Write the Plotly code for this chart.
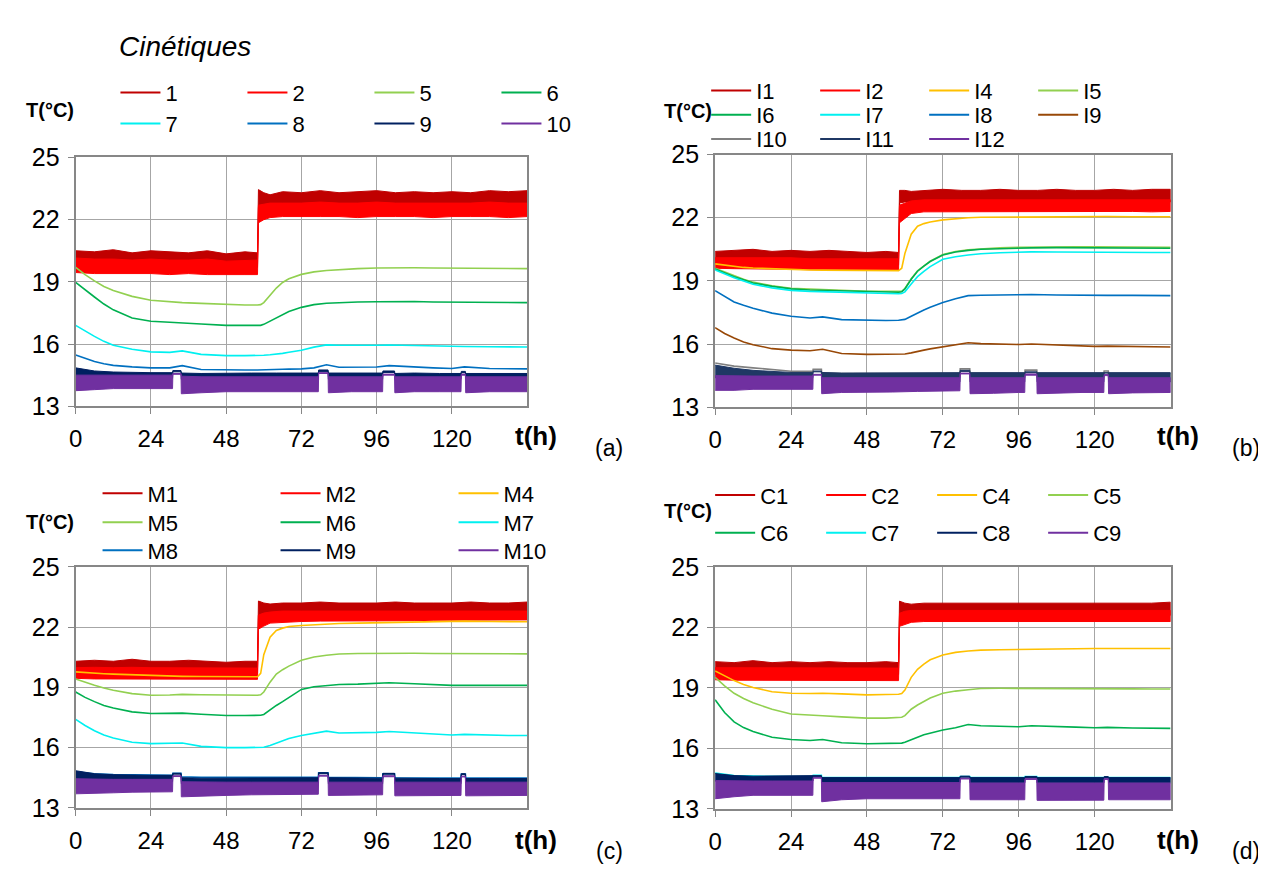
import plotly.graph_objects as go

W, H = 1266, 870
FONT = "Liberation Sans, Arial, sans-serif"

# ---------------- time grids (h) ----------------
t_smooth = [0, 3, 6, 9, 12, 18, 24, 30, 34, 40, 48, 54, 58, 59, 60, 62, 64, 66, 68, 72,
            76, 80, 84, 90, 96, 100, 108, 114, 120, 124, 132, 138, 144]
t_red = [0, 6, 12, 18, 24, 30, 36, 42, 48, 54, 58,
         58.3, 60, 62, 66, 72, 78, 84, 90, 96, 102, 108, 114, 120, 126, 132, 138, 144]
t_low = [0, 6, 12, 18, 24, 30.9, 31, 33.6, 33.7, 40, 48, 56, 64, 72, 77.4, 77.5, 80.5, 80.6,
         88, 96, 97.9, 98, 101.7, 101.8, 108, 116, 122.9, 123, 124.3, 124.4, 132, 138, 144]

# ---------------- panel (a) ----------------
a1_hi = [20.5, 20.45, 20.55, 20.4, 20.5, 20.45, 20.4, 20.5, 20.35, 20.45, 20.4,
         23.45, 23.3, 23.2, 23.35, 23.3, 23.4, 23.3, 23.35, 23.4, 23.3, 23.35, 23.3, 23.35, 23.3, 23.4, 23.35, 23.4]
a1_lo = [19.75, 19.75, 19.7, 19.75, 19.75, 19.7, 19.75, 19.7, 19.7, 19.7, 19.7,
         22.6, 22.6, 22.55, 22.6, 22.6, 22.6, 22.6, 22.55, 22.6, 22.6, 22.6, 22.55, 22.6, 22.6, 22.6, 22.55, 22.6]
a2_hi = [20.15, 20.1, 20.1, 20.05, 20.1, 20.05, 20.05, 20.1, 20.0, 20.05, 20.05,
         22.7, 22.75, 22.8, 22.8, 22.8, 22.85, 22.8, 22.8, 22.85, 22.8, 22.8, 22.8, 22.8, 22.8, 22.85, 22.8, 22.8]
a2_lo = [19.45, 19.4, 19.4, 19.4, 19.4, 19.35, 19.4, 19.35, 19.35, 19.35, 19.35,
         21.85, 22.0, 22.1, 22.15, 22.15, 22.15, 22.15, 22.1, 22.15, 22.15, 22.15, 22.1, 22.15, 22.15, 22.15, 22.1, 22.15]
a5 = [19.7, 19.35, 19.05, 18.78, 18.58, 18.3, 18.11, 18.03, 18.0, 17.96, 17.9, 17.88, 17.88, 17.9, 18.0,
      18.35, 18.7, 18.97, 19.15, 19.36, 19.48, 19.55, 19.6, 19.64, 19.67, 19.68, 19.68, 19.67, 19.66, 19.66,
      19.65, 19.65, 19.64]
a6 = [18.97, 18.6, 18.27, 17.93, 17.65, 17.26, 17.1, 17.05, 17.03, 16.97, 16.9, 16.9, 16.9, 16.9, 16.95,
      17.1, 17.26, 17.42, 17.57, 17.77, 17.9, 17.97, 18.0, 18.03, 18.04, 18.05, 18.05, 18.03, 18.02, 18.02,
      18.01, 18.0, 18.0]
a7 = [16.9, 16.62, 16.37, 16.13, 15.94, 15.75, 15.62, 15.6, 15.67, 15.5, 15.44, 15.44, 15.44, 15.45, 15.46,
      15.48, 15.5, 15.55, 15.6, 15.7, 15.85, 15.96, 15.94, 15.93, 15.94, 15.95, 15.92, 15.9, 15.87, 15.88,
      15.87, 15.86, 15.86]
a8 = [15.47, 15.3, 15.16, 15.05, 14.97, 14.9, 14.85, 14.85, 14.96, 14.77, 14.74, 14.75, 14.75, 14.75, 14.76,
      14.77, 14.78, 14.78, 14.79, 14.8, 14.85, 15.0, 14.88, 14.88, 14.89, 14.96, 14.88, 14.85, 14.82, 14.9,
      14.82, 14.8, 14.8]
a9_hi = [14.85, 14.7, 14.65, 14.62, 14.62, 14.62, 14.72, 14.72, 14.6, 14.58, 14.6, 14.6, 14.6, 14.6, 14.6,
         14.75, 14.75, 14.6, 14.6, 14.6, 14.6, 14.7, 14.7, 14.58, 14.6, 14.58, 14.58, 14.68, 14.68, 14.58,
         14.58, 14.58, 14.58]
a9_lo = [14.4, 14.35, 14.35, 14.35, 14.35, 14.35, 14.66, 14.66, 14.3, 14.3, 14.3, 14.3, 14.3, 14.3, 14.3,
         14.68, 14.68, 14.3, 14.3, 14.3, 14.3, 14.63, 14.63, 14.3, 14.3, 14.3, 14.3, 14.62, 14.62, 14.3,
         14.3, 14.3, 14.3]
a10_hi = [14.5, 14.5, 14.5, 14.5, 14.5, 14.5, 14.58, 14.58, 14.45, 14.42, 14.42, 14.42, 14.42, 14.42, 14.42,
          14.62, 14.62, 14.42, 14.42, 14.42, 14.42, 14.55, 14.55, 14.42, 14.42, 14.42, 14.42, 14.55, 14.55, 14.42,
          14.42, 14.42, 14.42]
a10_lo = [13.75, 13.8, 13.85, 13.85, 13.85, 13.85, 14.54, 14.54, 13.6, 13.65, 13.7, 13.7, 13.7, 13.7, 13.7,
          14.58, 14.58, 13.65, 13.7, 13.7, 13.7, 14.5, 14.5, 13.65, 13.7, 13.7, 13.7, 14.5, 14.5, 13.65,
          13.7, 13.7, 13.7]

# ---------------- panel (b) ----------------
i1_hi = [20.4, 20.45, 20.5, 20.4, 20.45, 20.4, 20.45, 20.4, 20.35, 20.4, 20.35,
         23.3, 23.3, 23.25, 23.3, 23.35, 23.3, 23.3, 23.35, 23.3, 23.3, 23.35, 23.3, 23.3, 23.35, 23.3, 23.35, 23.35]
i1_lo = [19.8, 19.8, 19.8, 19.8, 19.8, 19.78, 19.78, 19.78, 19.75, 19.75, 19.75,
         22.7, 22.75, 22.75, 22.72, 22.75, 22.75, 22.72, 22.75, 22.75, 22.72, 22.75, 22.75, 22.72, 22.75, 22.75, 22.72, 22.75]
i2_hi = [20.1, 20.1, 20.1, 20.1, 20.1, 20.05, 20.05, 20.05, 20.05, 20.05, 20.05,
         22.6, 22.7, 22.8, 22.85, 22.85, 22.88, 22.85, 22.85, 22.88, 22.85, 22.85, 22.88, 22.85, 22.85, 22.88, 22.85, 22.85]
i2_lo = [19.6, 19.58, 19.55, 19.55, 19.55, 19.53, 19.53, 19.53, 19.5, 19.5, 19.5,
         21.76, 21.95, 22.2, 22.28, 22.3, 22.3, 22.3, 22.28, 22.3, 22.3, 22.3, 22.28, 22.3, 22.3, 22.3, 22.28, 22.3]
i4 = [19.81, 19.75, 19.68, 19.64, 19.61, 19.57, 19.54, 19.52, 19.51, 19.5, 19.49, 19.49, 19.49, 19.6, 20.3,
      21.22, 21.6, 21.72, 21.8, 21.9, 21.96, 22.0, 22.02, 22.03, 22.04, 22.04, 22.05, 22.05, 22.06, 22.06,
      22.05, 22.05, 22.05]
i5 = [19.6, 19.42, 19.25, 19.08, 18.94, 18.77, 18.65, 18.6, 18.58, 18.55, 18.51, 18.49, 18.48, 18.5, 18.64,
      19.1, 19.48, 19.72, 19.94, 20.25, 20.4, 20.48, 20.53, 20.57, 20.6, 20.61, 20.62, 20.62, 20.62, 20.62,
      20.61, 20.61, 20.6]
i6 = [19.57, 19.38, 19.2, 19.05, 18.9, 18.74, 18.62, 18.57, 18.55, 18.52, 18.49, 18.47, 18.46, 18.48, 18.62,
      19.08, 19.46, 19.7, 19.92, 20.23, 20.37, 20.45, 20.5, 20.53, 20.56, 20.57, 20.58, 20.58, 20.58, 20.57,
      20.56, 20.56, 20.55]
i7 = [19.52, 19.33, 19.15, 18.99, 18.84, 18.67, 18.55, 18.5, 18.48, 18.46, 18.42, 18.4, 18.39, 18.4, 18.48,
      18.85, 19.2, 19.45, 19.68, 20.03, 20.15, 20.23, 20.29, 20.34, 20.38, 20.38, 20.37, 20.36, 20.36, 20.36,
      20.35, 20.35, 20.35]
i8 = [18.54, 18.25, 18.0, 17.84, 17.7, 17.47, 17.32, 17.24, 17.29, 17.16, 17.12, 17.12, 17.13, 17.14, 17.17,
      17.32, 17.48, 17.62, 17.75, 17.97, 18.15, 18.3, 18.32, 18.34, 18.36, 18.35, 18.33, 18.31, 18.3, 18.31,
      18.31, 18.3, 18.3]
i9 = [16.78, 16.5, 16.29, 16.1, 15.97, 15.78, 15.71, 15.68, 15.75, 15.55, 15.51, 15.52, 15.52, 15.52, 15.53,
      15.58, 15.63, 15.71, 15.77, 15.86, 15.95, 16.06, 16.02, 15.99, 15.98, 16.0, 15.95, 15.92, 15.89, 15.9,
      15.88, 15.86, 15.86]
i10 = [15.1, 14.95, 14.87, 14.78, 14.71, 14.7, 14.8, 14.8, 14.62, 14.6, 14.6, 14.58, 14.58, 14.58, 14.6,
       14.82, 14.82, 14.62, 14.6, 14.6, 14.6, 14.76, 14.76, 14.6, 14.6, 14.6, 14.6, 14.72, 14.72, 14.6,
       14.6, 14.6, 14.6]
i11_hi = [15.0, 14.85, 14.75, 14.7, 14.65, 14.65, 14.72, 14.72, 14.65, 14.62, 14.62, 14.62, 14.64, 14.64, 14.64,
          14.75, 14.75, 14.64, 14.64, 14.64, 14.64, 14.68, 14.68, 14.64, 14.64, 14.64, 14.64, 14.66, 14.66, 14.64,
          14.64, 14.64, 14.64]
i11_lo = [14.4, 14.4, 14.4, 14.4, 14.4, 14.4, 14.68, 14.68, 14.2, 14.2, 14.2, 14.2, 14.2, 14.2, 14.2,
          14.7, 14.7, 14.2, 14.2, 14.2, 14.2, 14.64, 14.64, 14.2, 14.2, 14.2, 14.2, 14.62, 14.62, 14.2,
          14.2, 14.2, 14.2]
i12_hi = [14.5, 14.48, 14.48, 14.48, 14.48, 14.48, 14.56, 14.56, 14.4, 14.4, 14.4, 14.4, 14.4, 14.4, 14.4,
          14.62, 14.62, 14.4, 14.4, 14.4, 14.4, 14.58, 14.58, 14.4, 14.4, 14.4, 14.4, 14.55, 14.55, 14.4,
          14.4, 14.4, 14.4]
i12_lo = [13.8, 13.8, 13.85, 13.85, 13.85, 13.85, 14.52, 14.52, 13.64, 13.7, 13.7, 13.72, 13.75, 13.78, 13.78,
          14.58, 14.58, 13.64, 13.66, 13.7, 13.7, 14.52, 14.52, 13.64, 13.66, 13.7, 13.7, 14.5, 14.5, 13.64,
          13.68, 13.7, 13.7]

# ---------------- panel (c) ----------------
m1_hi = [20.3, 20.35, 20.3, 20.4, 20.3, 20.3, 20.35, 20.3, 20.25, 20.3, 20.3,
         23.3, 23.2, 23.15, 23.2, 23.2, 23.25, 23.2, 23.2, 23.2, 23.25, 23.2, 23.2, 23.2, 23.25, 23.2, 23.2, 23.25]
m1_lo = [19.74, 19.74, 19.72, 19.74, 19.72, 19.72, 19.7, 19.72, 19.7, 19.7, 19.7,
         22.6, 22.6, 22.58, 22.6, 22.6, 22.62, 22.6, 22.6, 22.6, 22.62, 22.6, 22.6, 22.6, 22.62, 22.6, 22.6, 22.62]
m2_hi = [19.98, 20.0, 19.98, 20.0, 19.98, 19.98, 19.98, 19.96, 19.96, 19.96, 19.96,
         22.6, 22.7, 22.75, 22.8, 22.8, 22.8, 22.82, 22.8, 22.8, 22.8, 22.82, 22.8, 22.8, 22.8, 22.82, 22.8, 22.8]
m2_lo = [19.45, 19.42, 19.42, 19.42, 19.42, 19.42, 19.42, 19.4, 19.4, 19.4, 19.4,
         21.9, 22.05, 22.2, 22.25, 22.28, 22.3, 22.3, 22.3, 22.32, 22.32, 22.32, 22.34, 22.34, 22.36, 22.36, 22.36, 22.36]
m4 = [19.77, 19.73, 19.7, 19.68, 19.66, 19.62, 19.58, 19.56, 19.55, 19.54, 19.53, 19.53, 19.53, 19.7, 20.63,
      21.5, 21.83, 21.95, 22.03, 22.08, 22.12, 22.15, 22.18, 22.2, 22.22, 22.24, 22.25, 22.27, 22.3, 22.3,
      22.28, 22.27, 22.27]
m5 = [19.42, 19.25, 19.1, 18.97, 18.86, 18.69, 18.61, 18.62, 18.65, 18.63, 18.61, 18.61, 18.61, 18.63, 18.77,
      19.26, 19.66, 19.88, 20.06, 20.35, 20.51, 20.6, 20.66, 20.69, 20.7, 20.71, 20.7, 20.69, 20.68, 20.68,
      20.68, 20.68, 20.67]
m6 = [18.77, 18.5, 18.29, 18.1, 17.97, 17.78, 17.7, 17.7, 17.72, 17.66, 17.6, 17.6, 17.6, 17.61, 17.65,
      17.89, 18.1, 18.29, 18.5, 18.9, 19.03, 19.1, 19.14, 19.16, 19.18, 19.23, 19.18, 19.13, 19.1, 19.1,
      19.1, 19.1, 19.1]
m7 = [17.41, 17.1, 16.84, 16.63, 16.48, 16.27, 16.2, 16.2, 16.23, 16.06, 16.0, 16.0, 16.0, 16.0, 16.02,
      16.11, 16.22, 16.35, 16.45, 16.6, 16.7, 16.82, 16.73, 16.74, 16.76, 16.8, 16.74, 16.68, 16.63, 16.66,
      16.62, 16.6, 16.6]
m8 = [14.8, 14.7, 14.66, 14.64, 14.62, 14.62, 14.72, 14.72, 14.55, 14.52, 14.52, 14.52, 14.52, 14.52, 14.52,
      14.75, 14.75, 14.52, 14.5, 14.5, 14.5, 14.7, 14.7, 14.5, 14.48, 14.48, 14.48, 14.68, 14.68, 14.48,
      14.48, 14.48, 14.48]
m9_hi = [14.85, 14.7, 14.65, 14.62, 14.62, 14.62, 14.72, 14.72, 14.5, 14.48, 14.48, 14.48, 14.5, 14.5, 14.5,
         14.75, 14.75, 14.5, 14.48, 14.48, 14.48, 14.72, 14.72, 14.48, 14.46, 14.46, 14.46, 14.7, 14.7, 14.46,
         14.46, 14.46, 14.46]
m9_lo = [14.3, 14.3, 14.3, 14.3, 14.3, 14.3, 14.68, 14.68, 14.2, 14.2, 14.2, 14.2, 14.2, 14.2, 14.2,
         14.7, 14.7, 14.2, 14.2, 14.2, 14.2, 14.68, 14.68, 14.2, 14.2, 14.2, 14.2, 14.66, 14.66, 14.2,
         14.2, 14.2, 14.2]
m10_hi = [14.45, 14.42, 14.42, 14.42, 14.42, 14.42, 14.6, 14.6, 14.3, 14.28, 14.28, 14.28, 14.28, 14.28, 14.28,
          14.62, 14.62, 14.28, 14.28, 14.28, 14.28, 14.6, 14.6, 14.28, 14.28, 14.28, 14.28, 14.58, 14.58, 14.28,
          14.28, 14.28, 14.28]
m10_lo = [13.7, 13.72, 13.75, 13.78, 13.8, 13.8, 14.56, 14.56, 13.55, 13.6, 13.62, 13.65, 13.68, 13.68, 13.68,
          14.58, 14.58, 13.62, 13.65, 13.65, 13.65, 14.55, 14.55, 13.6, 13.62, 13.62, 13.62, 14.54, 14.54, 13.6,
          13.62, 13.62, 13.62]

# ---------------- panel (d) ----------------
c1_hi = [20.3, 20.25, 20.35, 20.25, 20.3, 20.25, 20.3, 20.25, 20.25, 20.3, 20.25,
         23.3, 23.2, 23.15, 23.2, 23.2, 23.19, 23.22, 23.2, 23.2, 23.19, 23.22, 23.2, 23.2, 23.22, 23.2, 23.2, 23.25]
c1_lo = [19.68, 19.68, 19.66, 19.68, 19.68, 19.66, 19.68, 19.66, 19.66, 19.66, 19.66,
         22.6, 22.6, 22.58, 22.6, 22.62, 22.6, 22.6, 22.58, 22.6, 22.62, 22.6, 22.6, 22.58, 22.6, 22.62, 22.6, 22.6]
c2_hi = [20.0, 20.0, 19.98, 20.0, 20.0, 19.98, 20.0, 19.98, 19.98, 19.98, 19.98,
         22.7, 22.8, 22.84, 22.84, 22.84, 22.86, 22.84, 22.84, 22.86, 22.84, 22.84, 22.86, 22.84, 22.84, 22.86, 22.84, 22.84]
c2_lo = [19.4, 19.38, 19.36, 19.36, 19.36, 19.36, 19.36, 19.36, 19.36, 19.36, 19.36,
         22.05, 22.15, 22.25, 22.29, 22.29, 22.3, 22.29, 22.29, 22.3, 22.29, 22.29, 22.3, 22.29, 22.29, 22.3, 22.29, 22.29]
c4 = [19.84, 19.6, 19.36, 19.17, 19.02, 18.81, 18.73, 18.72, 18.73, 18.7, 18.65, 18.67, 18.68, 18.72, 18.89,
      19.52, 19.92, 20.18, 20.39, 20.63, 20.76, 20.83, 20.87, 20.89, 20.91, 20.92, 20.93, 20.94, 20.95, 20.95,
      20.95, 20.95, 20.95]
c5 = [19.52, 19.1, 18.73, 18.47, 18.26, 17.94, 17.7, 17.63, 17.62, 17.56, 17.5, 17.5, 17.51, 17.54, 17.62,
      17.94, 18.15, 18.34, 18.5, 18.73, 18.84, 18.91, 18.97, 18.98, 18.98, 18.98, 18.97, 18.96, 18.96, 18.95,
      18.95, 18.94, 18.94]
c6 = [18.41, 17.78, 17.31, 17.03, 16.83, 16.55, 16.44, 16.39, 16.44, 16.28, 16.23, 16.24, 16.25, 16.26, 16.3,
      16.44, 16.55, 16.67, 16.76, 16.91, 17.02, 17.18, 17.12, 17.08, 17.07, 17.12, 17.1, 17.05, 17.02, 17.04,
      17.01, 17.0, 16.99]
c7 = [14.78, 14.65, 14.62, 14.6, 14.6, 14.6, 14.66, 14.66, 14.55, 14.55, 14.55, 14.55, 14.55, 14.55, 14.55,
      14.6, 14.6, 14.55, 14.55, 14.55, 14.55, 14.6, 14.6, 14.55, 14.55, 14.55, 14.55, 14.58, 14.58, 14.55,
      14.55, 14.55, 14.55]
c8_hi = [14.75, 14.65, 14.62, 14.62, 14.62, 14.62, 14.65, 14.65, 14.55, 14.55, 14.55, 14.55, 14.55, 14.55, 14.55,
         14.62, 14.62, 14.55, 14.55, 14.55, 14.55, 14.6, 14.6, 14.55, 14.55, 14.55, 14.55, 14.6, 14.6, 14.55,
         14.55, 14.55, 14.55]
c8_lo = [14.38, 14.38, 14.38, 14.38, 14.38, 14.38, 14.6, 14.6, 14.3, 14.3, 14.3, 14.3, 14.3, 14.3, 14.3,
         14.57, 14.57, 14.3, 14.3, 14.3, 14.3, 14.55, 14.55, 14.3, 14.3, 14.3, 14.3, 14.55, 14.55, 14.3,
         14.3, 14.3, 14.3]
c9_hi = [14.4, 14.38, 14.38, 14.38, 14.38, 14.38, 14.56, 14.56, 14.3, 14.3, 14.3, 14.3, 14.3, 14.3, 14.3,
         14.52, 14.52, 14.28, 14.28, 14.28, 14.28, 14.5, 14.5, 14.28, 14.28, 14.28, 14.28, 14.5, 14.5, 14.28,
         14.28, 14.28, 14.28]
c9_lo = [13.5, 13.6, 13.67, 13.67, 13.67, 13.67, 14.52, 14.52, 13.35, 13.45, 13.5, 13.5, 13.5, 13.5, 13.5,
         14.48, 14.48, 13.45, 13.45, 13.45, 13.45, 14.46, 14.46, 13.42, 13.43, 13.43, 13.43, 14.46, 14.46, 13.45,
         13.45, 13.45, 13.45]

x_ticks = [0, 24, 48, 72, 96, 120]
y_ticks = [13, 16, 19, 22, 25]

# colours
DRED, RED, YEL, LGRN, GRN = "#C00000", "#FF0000", "#FFC000", "#92D050", "#00B050"
CYAN, BLUE, NAVY, PURP = "#00F0F0", "#0070C0", "#002060", "#7030A0"
BROWN, GRAY, SLATE = "#984807", "#808080", "#1F3864"

panels = [
    dict(key="a", rows=[["1", "2", "5", "6"], ["7", "8", "9", "10"]], series=[
        ("1", DRED, "band", (a1_hi, a1_lo), t_red),
        ("2", RED, "band", (a2_hi, a2_lo), t_red),
        ("5", LGRN, "line", a5, t_smooth),
        ("6", GRN, "line", a6, t_smooth),
        ("7", CYAN, "line", a7, t_smooth),
        ("8", BLUE, "line", a8, t_smooth),
        ("9", NAVY, "band", (a9_hi, a9_lo), t_low),
        ("10", PURP, "band", (a10_hi, a10_lo), t_low)]),
    dict(key="b", rows=[["I1", "I2", "I4", "I5"], ["I6", "I7", "I8", "I9"], ["I10", "I11", "I12"]], series=[
        ("I1", DRED, "band", (i1_hi, i1_lo), t_red),
        ("I2", RED, "band", (i2_hi, i2_lo), t_red),
        ("I4", YEL, "line", i4, t_smooth),
        ("I5", LGRN, "line", i5, t_smooth),
        ("I6", GRN, "line", i6, t_smooth),
        ("I7", CYAN, "line", i7, t_smooth),
        ("I8", BLUE, "line", i8, t_smooth),
        ("I9", BROWN, "line", i9, t_smooth),
        ("I10", GRAY, "line", i10, t_low),
        ("I11", SLATE, "band", (i11_hi, i11_lo), t_low),
        ("I12", PURP, "band", (i12_hi, i12_lo), t_low)]),
    dict(key="c", rows=[["M1", "M2", "M4"], ["M5", "M6", "M7"], ["M8", "M9", "M10"]], series=[
        ("M1", DRED, "band", (m1_hi, m1_lo), t_red),
        ("M2", RED, "band", (m2_hi, m2_lo), t_red),
        ("M4", YEL, "line", m4, t_smooth),
        ("M5", LGRN, "line", m5, t_smooth),
        ("M6", GRN, "line", m6, t_smooth),
        ("M7", CYAN, "line", m7, t_smooth),
        ("M8", BLUE, "line", m8, t_low),
        ("M9", NAVY, "band", (m9_hi, m9_lo), t_low),
        ("M10", PURP, "band", (m10_hi, m10_lo), t_low)]),
    dict(key="d", rows=[["C1", "C2", "C4", "C5"], ["C6", "C7", "C8", "C9"]], series=[
        ("C1", DRED, "band", (c1_hi, c1_lo), t_red),
        ("C2", RED, "band", (c2_hi, c2_lo), t_red),
        ("C4", YEL, "line", c4, t_smooth),
        ("C5", LGRN, "line", c5, t_smooth),
        ("C6", GRN, "line", c6, t_smooth),
        ("C7", CYAN, "line", c7, t_low),
        ("C8", NAVY, "band", (c8_hi, c8_lo), t_low),
        ("C9", PURP, "band", (c9_hi, c9_lo), t_low)]),
]

# plot boxes in pixels (left, right, top, bottom)
boxes = {"a": (61, 515, 140, 397), "b": (704, 1162, 137, 398),
         "c": (61, 515, 563, 812), "d": (704, 1162, 563, 813)}
# legend rows: (x where first entry text starts, [row centres], column pitch)
legend_geo = {"a": (151, [73, 105], 127), "b": (745, [71, 96, 121], 109),
              "c": (133, [487, 517, 546], 178), "d": (749, [489, 528], 111)}
ITEMW = 40
TEXTGAP = ITEMW + 10

fig = go.Figure()
layout = dict(width=W, height=H, margin=dict(l=0, r=0, t=0, b=0),
              paper_bgcolor="white", plot_bgcolor="white", hovermode=False,
              font=dict(family=FONT, color="#000000"))

legend_counter = 0
for pi, p in enumerate(panels):
    k = p["key"]
    xa = "x" if pi == 0 else f"x{pi + 1}"
    ya = "y" if pi == 0 else f"y{pi + 1}"
    l, r, t, b = boxes[k]
    axkey = "" if pi == 0 else str(pi + 1)
    layout["xaxis" + axkey] = dict(
        domain=[l / W, r / W], anchor=ya, range=[0, 144], tickvals=x_ticks,
        showgrid=True, gridcolor="#A6A6A6", gridwidth=1, zeroline=False,
        showline=True, linecolor="#878787", linewidth=2, mirror=True,
        ticks="outside", ticklen=6, tickcolor="#878787", tickwidth=1,
        tickfont=dict(size=24, family=FONT, color="#000"), ticklabelstandoff=4)
    layout["yaxis" + axkey] = dict(
        domain=[1 - b / H, 1 - t / H], anchor=xa, range=[13, 25], tickvals=y_ticks,
        showgrid=True, gridcolor="#A6A6A6", gridwidth=1, zeroline=False,
        showline=True, linecolor="#878787", linewidth=2, mirror=True,
        ticks="outside", ticklen=6, tickcolor="#878787", tickwidth=1,
        tickfont=dict(size=25, family=FONT, color="#000"), ticklabelstandoff=3)

    colours = {}
    for name, col, kind, data, tg in p["series"]:
        colours[name] = col
        if kind == "band":
            hi, lo = data
            assert len(hi) == len(tg) and len(lo) == len(tg), name
            fig.add_trace(go.Scatter(
                x=list(tg) + list(tg)[::-1], y=list(hi) + list(lo)[::-1],
                mode="lines", fill="toself", fillcolor=col,
                line=dict(color=col, width=1), showlegend=False,
                xaxis=xa, yaxis=ya, hoverinfo="skip"))
        else:
            assert len(data) == len(tg), name
            fig.add_trace(go.Scatter(
                x=tg, y=data, mode="lines", line=dict(color=col, width=1.6),
                showlegend=False, xaxis=xa, yaxis=ya, hoverinfo="skip"))

    tx0, row_ys, pitch = legend_geo[k]
    for row, yc in zip(p["rows"], row_ys):
        legend_counter += 1
        lid = "legend" if legend_counter == 1 else f"legend{legend_counter}"
        layout[lid] = dict(
            x=(tx0 - TEXTGAP) / W, xanchor="left", y=1 - yc / H, yanchor="middle",
            orientation="h", entrywidth=pitch - TEXTGAP - 5, entrywidthmode="pixels",
            itemwidth=ITEMW, bgcolor="rgba(0,0,0,0)", borderwidth=0, itemclick=False,
            font=dict(size=22, family=FONT, color="#000"))
        for name in row:
            fig.add_trace(go.Scatter(
                x=[None], y=[None], mode="lines", name=name,
                line=dict(color=colours[name], width=2),
                legend=lid, showlegend=True, xaxis=xa, yaxis=ya))

fig.update_layout(**layout)


def ann(text, x, y, size, xanchor="center", bold=False, italic=False):
    if bold:
        text = f"<b>{text}</b>"
    if italic:
        text = f"<i>{text}</i>"
    fig.add_annotation(text=text, x=x / W, y=1 - y / H, xref="paper", yref="paper",
                       xanchor=xanchor, yanchor="middle", showarrow=False,
                       font=dict(size=size, family=FONT, color="#000"))


ann("Cinétiques", 103, 25, 28, xanchor="left", italic=True)
for (tx, ty) in [(35, 91), (677, 92), (35, 517), (677, 505)]:
    ann("T(°C)", tx, ty, 20, bold=True)
for (tx, ty) in [(524, 428), (1169, 428), (524, 845), (1169, 845)]:
    ann("t(h)", tx, ty, 26, bold=True)
for lab, (tx, ty) in zip(["(a)", "(b)", "(c)", "(d)"],
                         [(597, 440), (1238, 440), (598, 857), (1238, 857)]):
    ann(lab, tx, ty, 23)

fig.write_html("out.html")
